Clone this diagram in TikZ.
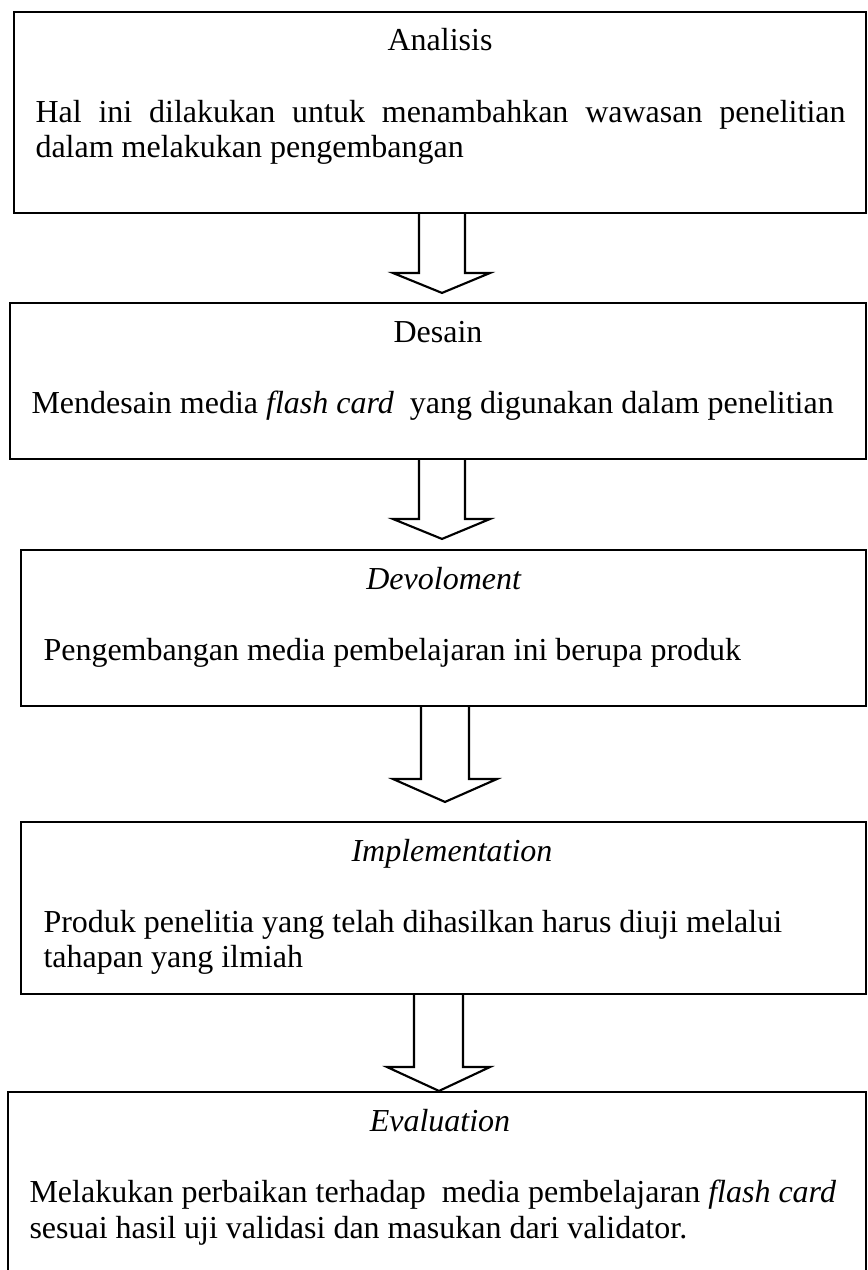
\documentclass[tikz,border=0pt]{standalone}
\usepackage{fontspec}
\setmainfont{Liberation Serif}
\usetikzlibrary{calc,fit}

\tikzset{
  stagebox/.style={draw,line width=0.8pt,inner sep=0pt},
  stagetitle/.style={anchor=base,inner sep=0pt,font=\fontsize{12}{13}\selectfont},
  stageline/.style={anchor=base west,inner sep=0pt,font=\fontsize{12}{13}\selectfont},
  flowarrow/.style={draw,line width=0.8pt,line join=miter}
}

\begin{document}
\begin{tikzpicture}[x=0.375pt,y=-0.375pt]
\useasboundingbox (0,0) rectangle (867,1270);

% the five stages
\node[stagebox,fit={(14,12) (866,213)}] (ana) {};
\node[stagebox,fit={(10,303) (866,459)}] (des) {};
\node[stagebox,fit={(21,550) (866,706)}] (dev) {};
\node[stagebox,fit={(21,822) (866,994)}] (imp) {};
\node[stagebox,fit={(8,1092) (866,1285)}] (eva) {};

% titles
\node[stagetitle] (anatitle) at (440,51) {Analisis};
\node[stagetitle] (destitle) at (438,342) {Desain};
\node[stagetitle] (devtitle) at (444,589) {\textit{Devoloment}};
\node[stagetitle] (imptitle) at (452,861) {\textit{Implementation}};
\node[stagetitle] (evatitle) at (440,1131) {\textit{Evaluation}};

% texts
\node[stageline] (ana1) at (35,123) {\makebox[303.75pt][s]{Hal ini dilakukan untuk menambahkan wawasan penelitian}};
\node[stageline] (ana2) at (35,158) {dalam melakukan pengembangan};
\node[stageline] (des1) at (31,413) {Mendesain media \textit{flash card}\ \ yang digunakan dalam penelitian};
\node[stageline] (dev1) at (43,660) {Pengembangan media pembelajaran ini berupa produk};
\node[stageline] (imp1) at (43,932) {Produk penelitia yang telah dihasilkan harus diuji melalui};
\node[stageline] (imp2) at (43,967) {tahapan yang ilmiah};
\node[stageline] (eva1) at (29,1202) {Melakukan perbaikan terhadap\ \ media pembelajaran \textit{flash card}};
\node[stageline] (eva2) at (29,1238) {sesuai hasil uji validasi dan masukan dari validator.};

% arrows
\draw[flowarrow] (419,0 |- ana.south) -- (419,273) -- (393,273) -- ($(442,0 |- des.north)+(0,-9)$) -- (490,273) -- (465,273) -- (465,0 |- ana.south);
\draw[flowarrow] (419,0 |- des.south) -- (419,519) -- (393,519) -- ($(442,0 |- dev.north)+(0,-10)$) -- (490,519) -- (465,519) -- (465,0 |- des.south);
\draw[flowarrow] (421,0 |- dev.south) -- (421,779) -- (393,779) -- ($(445,0 |- imp.north)+(0,-19)$) -- (497,779) -- (469,779) -- (469,0 |- dev.south);
\draw[flowarrow] (414,0 |- imp.south) -- (414,1067) -- (387,1067) -- (439,0 |- eva.north) -- (490,1067) -- (463,1067) -- (463,0 |- imp.south);
\end{tikzpicture}
\end{document}
